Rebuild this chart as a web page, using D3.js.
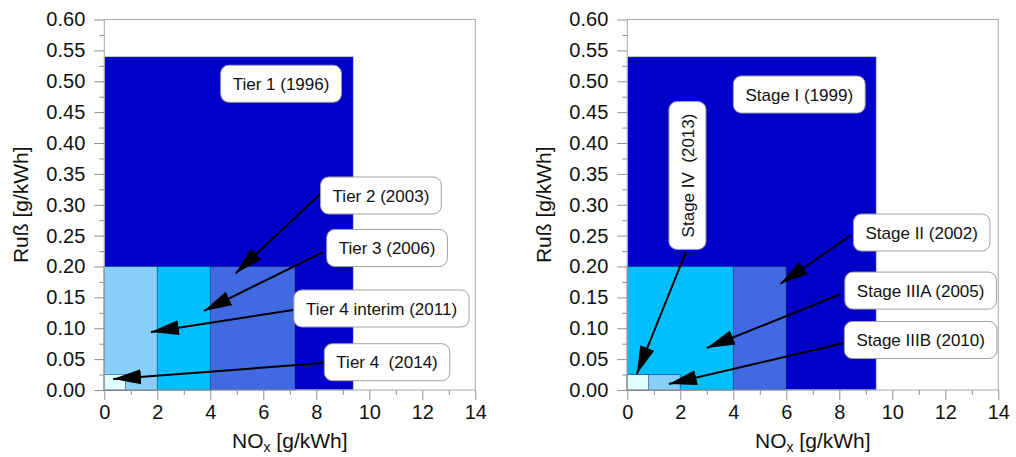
<!DOCTYPE html>
<html>
<head>
<meta charset="utf-8">
<script src="https://cdn.jsdelivr.net/npm/d3@7"></script>
<style>
  body { margin: 0; background: #fff; }
  svg { display: block; font-family: "Liberation Sans", Arial, sans-serif; }
</style>
</head>
<body>
<svg id="chart" width="1016" height="457"></svg>
<script>
// US EPA Tier (links) und EU Stage (rechts) Grenzwerte, NOx vs. Ruß
var tierNames = ["Tier 1 (1996)", "Tier 2 (2003)", "Tier 3 (2006)", "Tier 4 interim (2011)", "Tier 4  (2014)"];
var tierNox = [9.4, 7.2, 4.0, 2.0, 0.8];
var tierPm = [0.54, 0.20, 0.20, 0.20, 0.025];

var stageNames = ["Stage I (1999)", "Stage II (2002)", "Stage IIIA (2005)", "Stage IIIB (2010)", "Stage IV  (2013)"];
var stageNox = [9.4, 6.0, 4.0, 2.0, 0.8];
var stagePm = [0.54, 0.20, 0.20, 0.025, 0.025];

var fills = ["#0000c8", "#4169e1", "#00bfff", "#87cefa", "#e0ffff"];

// Beschriftungen in Datenkoordinaten: Mitte der Box, Pfeil von / nach
var tierLabelPos = [[6.67, 0.496], [10.44, 0.315], [10.67, 0.23], [10.46, 0.132], [10.67, 0.045]];
var tierArrowFrom = [null, [8.19, 0.319], [8.24, 0.223], [7.18, 0.130], [8.39, 0.044]];
var tierArrowTo = [null, [4.96, 0.189], [3.76, 0.128], [1.76, 0.094], [0.33, 0.018]];

var stageLabelPos = [[6.49, 0.4785], [11.11, 0.255], [11.07, 0.161], [11.07, 0.081], [2.27, 0.3474]];
var stageArrowFrom = [null, [8.46, 0.251], [8.04, 0.155], [8.19, 0.076], [2.21, 0.2235]];
var stageArrowTo = [null, [5.78, 0.172], [3.0, 0.068], [1.57, 0.0097], [0.36, 0.026]];
var stageVertical = [false, false, false, false, true];

var xMajor = d3.range(0, 14.01, 2);
var xMinor = d3.range(1, 14, 2);
var yMajor = d3.range(0, 0.6001, 0.05);
var yMinor = d3.range(0.025, 0.6, 0.05);

var PLOT_W = 371, PLOT_H = 370.5;
var svg = d3.select("#chart");

svg.append("defs").append("marker")
    .attr("id", "arrow")
    .attr("markerUnits", "userSpaceOnUse")
    .attr("viewBox", "0 -8 28 16")
    .attr("refX", 28)
    .attr("refY", 0)
    .attr("markerWidth", 28)
    .attr("markerHeight", 16)
    .attr("orient", "auto")
    .append("path")
    .attr("d", "M0,-7.5 L28,0 L0,7.5 Z")
    .attr("fill", "#000");

function panel(left, top, names, nox, pm, labelPos, from, to, vertical) {
    var g = svg.append("g").attr("transform", "translate(" + left + "," + top + ")");
    var x = d3.scaleLinear().domain([0, 14]).range([0, PLOT_W]);
    var y = d3.scaleLinear().domain([0, 0.6]).range([PLOT_H, 0]);

    // Flächen, größte zuerst
    g.append("g").selectAll("rect")
        .data(nox)
        .enter()
        .append("rect")
        .attr("x", x(0))
        .attr("y", function(d, i) { return y(pm[i]); })
        .attr("width", function(d) { return x(d) - x(0); })
        .attr("height", function(d, i) { return y(0) - y(pm[i]); })
        .attr("fill", function(d, i) { return fills[i]; })
        .attr("stroke", function(d, i) { return i == 0 ? "#c8c8d8" : "rgba(0,10,60,0.45)"; })
        .attr("stroke-width", 1);

    // Rahmen
    g.append("rect")
        .attr("x", 0).attr("y", 0)
        .attr("width", PLOT_W).attr("height", PLOT_H)
        .attr("fill", "none")
        .attr("stroke", "#a8a8a8");

    g.append("g")
        .call(d3.axisLeft(y).tickValues(yMajor).tickFormat(d3.format(".2f")).tickSize(10).tickPadding(9));
    g.append("g")
        .attr("transform", "translate(0," + PLOT_H + ")")
        .call(d3.axisBottom(x).tickValues(xMajor).tickFormat(d3.format("d")).tickSize(10).tickPadding(5));
    g.append("g")
        .call(d3.axisLeft(y).tickValues(yMinor).tickFormat("").tickSize(5));
    g.append("g")
        .attr("transform", "translate(0," + PLOT_H + ")")
        .call(d3.axisBottom(x).tickValues(xMinor).tickFormat("").tickSize(5));
    g.selectAll(".domain").remove();
    g.selectAll(".tick line").attr("stroke", "#909090");
    g.selectAll(".tick text").attr("font-size", 20).attr("fill", "#111")
        .attr("font-family", "Liberation Sans, Arial, sans-serif");

    // Achsentitel
    var xt = g.append("text")
        .attr("x", PLOT_W / 2)
        .attr("y", PLOT_H + 58)
        .attr("text-anchor", "middle")
        .attr("font-size", 21)
        .attr("fill", "#111");
    xt.append("tspan").text("NO");
    xt.append("tspan").attr("font-size", 14).attr("dy", 4).text("x");
    xt.append("tspan").attr("dy", -4).text(" [g/kWh]");

    g.append("text")
        .attr("transform", "translate(-76," + (PLOT_H / 2) + ") rotate(-90)")
        .attr("text-anchor", "middle")
        .attr("font-size", 21)
        .attr("fill", "#111")
        .text("Ruß [g/kWh]");

    // Pfeile
    g.append("g").selectAll("line")
        .data(names.filter(function(d, i) { return from[i]; }).map(function(d) { return names.indexOf(d); }))
        .enter()
        .append("line")
        .attr("x1", function(i) { return x(from[i][0]); })
        .attr("y1", function(i) { return y(from[i][1]); })
        .attr("x2", function(i) { return x(to[i][0]); })
        .attr("y2", function(i) { return y(to[i][1]); })
        .attr("stroke", "#000")
        .attr("stroke-width", 2)
        .attr("marker-end", "url(#arrow)");

    // Beschriftungen
    var labels = g.append("g").selectAll("g")
        .data(names)
        .enter()
        .append("g")
        .attr("transform", function(d, i) {
            var t = "translate(" + x(labelPos[i][0]) + "," + y(labelPos[i][1]) + ")";
            return vertical && vertical[i] ? t + " rotate(-90)" : t;
        });
    labels.append("rect");
    labels.append("text")
        .attr("text-anchor", "middle")
        .attr("dy", "0.36em")
        .attr("font-size", 17)
        .attr("fill", "#111")
        .style("white-space", "pre")
        .text(function(d) { return d; })
        .each(function(d) {
            var w = this.getComputedTextLength() + 24;
            d3.select(this.previousSibling)
                .attr("x", -w / 2).attr("y", -18.5)
                .attr("width", w).attr("height", 37)
                .attr("rx", 8)
                .attr("fill", "#fff")
                .attr("stroke", "#a0a0a0");
        });
}

panel(104.3, 19.5, tierNames, tierNox, tierPm, tierLabelPos, tierArrowFrom, tierArrowTo, null);
panel(627.3, 19.5, stageNames, stageNox, stagePm, stageLabelPos, stageArrowFrom, stageArrowTo, stageVertical);
</script>
</body>
</html>
